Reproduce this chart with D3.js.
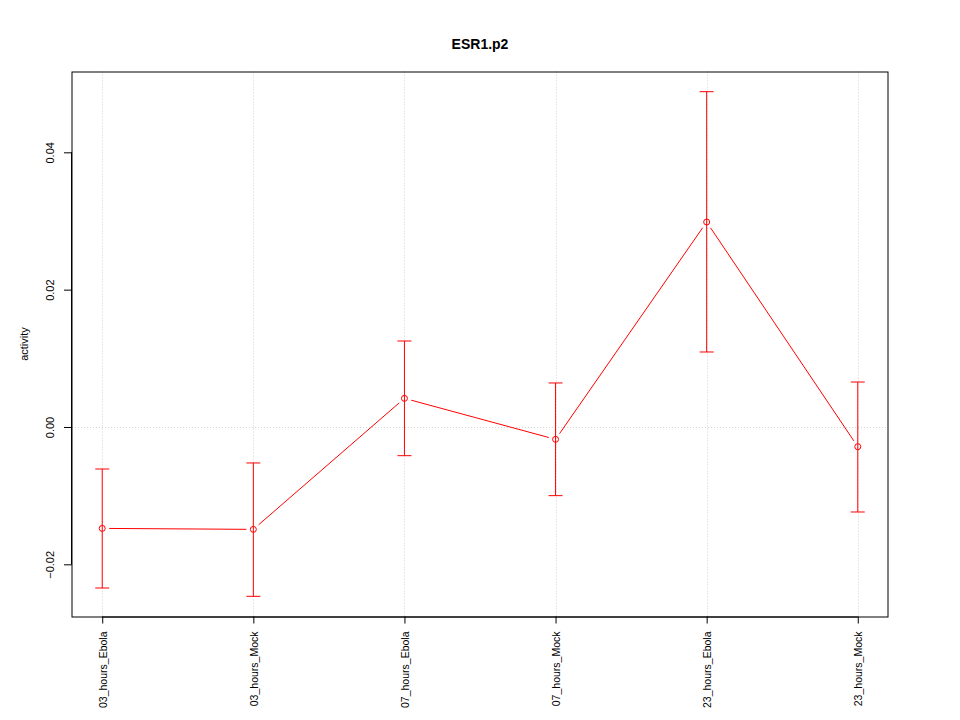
<!DOCTYPE html>
<html><head><meta charset="utf-8">
<script src="https://cdn.jsdelivr.net/npm/d3@7"></script>
<style>body{margin:0;background:#fff}svg{display:block}text{font-family:"Liberation Sans",Arial,Helvetica,sans-serif}</style>
</head><body><div id="chart"></div>
<script>
const categories = ["03_hours_Ebola","03_hours_Mock","07_hours_Ebola","07_hours_Mock","23_hours_Ebola","23_hours_Mock"];
const means = [-0.01477,-0.01491,0.00417,-0.00180,0.02985,-0.00287];
const upper = [-0.00612,-0.00524,0.01252,0.00641,0.04883,0.00655];
const lower = [-0.02345,-0.02466,-0.00418,-0.01000,0.01092,-0.01238];
const yTicks = [-0.02,0.00,0.02,0.04];
const title = "ESR1.p2";
const yLabel = "activity";

const W=960,H=720, L=72, R=888, T=71.5, B=616.5;
const svg=d3.select("#chart").append("svg").attr("width",W).attr("height",H);

const n=categories.length;
const xs=d3.scaleLinear().domain([1-0.04*(n-1),n+0.04*(n-1)]).range([L,R]);
const ymin=d3.min(lower), ymax=d3.max(upper), pad=(ymax-ymin)*0.04;
const ys=d3.scaleLinear().domain([ymin-pad,ymax+pad]).range([B,T]);

// grid
const grid=svg.append("g").attr("stroke","#d3d3d3").attr("stroke-dasharray","1,2").attr("stroke-width",1);
categories.forEach((c,i)=>{const x=Math.round(xs(i+1))+0.5;grid.append("line").attr("x1",x).attr("x2",x).attr("y1",T).attr("y2",B);});
grid.append("line").attr("x1",L).attr("x2",R).attr("y1",Math.round(ys(0))+0.5).attr("y2",Math.round(ys(0))+0.5);

// box
svg.append("rect").attr("x",L).attr("y",Math.round(T)).attr("width",R-L).attr("height",Math.round(B)-Math.round(T)).attr("fill","none").attr("stroke","#000").attr("stroke-width",1);

// y axis
const yAxis=d3.axisLeft(ys).tickValues(yTicks).tickSize(8).tickFormat(d3.format(".2f"));
const gy=svg.append("g").attr("transform",`translate(${L},0)`).call(yAxis);
gy.select(".domain").attr("d",`M-0.5,${ys(yTicks[0])}V${ys(yTicks[yTicks.length-1])}`).attr("stroke","#000");
gy.selectAll(".tick line").attr("stroke","#000");
gy.selectAll(".tick text").attr("font-size",11).attr("fill","#000").attr("x",null).attr("y",null).attr("dy","0")
  .attr("transform","translate(-18,0) rotate(-90)").attr("text-anchor","middle");

// x axis
const xAxis=d3.axisBottom(xs).tickValues(d3.range(1,n+1)).tickSize(7).tickFormat(d=>categories[d-1]);
const gx=svg.append("g").attr("transform",`translate(0,${B})`).call(xAxis);
gx.select(".domain").attr("d",`M${xs(1)},0.5H${xs(n)}`).attr("stroke","#000");
gx.selectAll(".tick line").attr("stroke","#000");
gx.selectAll(".tick text").attr("font-size",10.5).attr("fill","#000").attr("y",null).attr("dy",null)
  .attr("transform","translate(4,15) rotate(-90)").attr("text-anchor","end");

// error bars
const red="#ff0000";
const eb=svg.append("g").attr("stroke",red).attr("stroke-width",1).attr("fill","none");
categories.forEach((c,i)=>{
  const x=xs(i+1);
  eb.append("line").attr("x1",x).attr("x2",x).attr("y1",ys(upper[i])).attr("y2",ys(lower[i]));
  eb.append("line").attr("x1",x-7).attr("x2",x+7).attr("y1",ys(upper[i])).attr("y2",ys(upper[i]));
  eb.append("line").attr("x1",x-7).attr("x2",x+7).attr("y1",ys(lower[i])).attr("y2",ys(lower[i]));
});
// connecting lines with gaps (type "b")
const gap=7;
for(let i=0;i<n-1;i++){
  const x1=xs(i+1),y1=ys(means[i]),x2=xs(i+2),y2=ys(means[i+1]);
  const dx=x2-x1,dy=y2-y1,len=Math.hypot(dx,dy),ux=dx/len,uy=dy/len;
  eb.append("line").attr("x1",x1+ux*gap).attr("y1",y1+uy*gap).attr("x2",x2-ux*gap).attr("y2",y2-uy*gap);
}
// points
svg.append("g").selectAll("circle").data(means).join("circle")
  .attr("cx",(d,i)=>xs(i+1)).attr("cy",d=>ys(d)).attr("r",3).attr("fill","none").attr("stroke",red).attr("stroke-width",1);

// title and labels
svg.append("text").attr("x",(L+R)/2).attr("y",49).attr("text-anchor","middle").attr("font-size",14).attr("font-weight","bold").text(title);
svg.append("text").attr("transform",`translate(28,${(T+B)/2}) rotate(-90)`).attr("text-anchor","middle").attr("font-size",11).text(yLabel);
</script></body></html>
